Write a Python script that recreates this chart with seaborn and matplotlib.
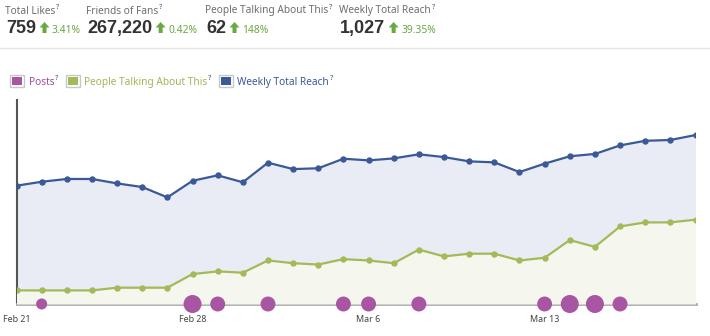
import matplotlib
matplotlib.use("Agg")
import matplotlib.pyplot as plt
from matplotlib.patches import Rectangle, Polygon
from matplotlib.lines import Line2D
import pandas as pd
import seaborn as sns

# ---- data -------------------------------------------------------------
days = pd.date_range("2012-02-21", "2012-03-19", freq="D")
weekly_reach = [719, 743, 760, 760, 733, 711, 648, 749, 782, 740, 859, 820, 825, 883,
                873, 885, 910, 893, 867, 861, 802, 853, 898, 912, 964, 992, 997, 1027]
talking_about = [10, 10, 10, 10, 12, 12, 12, 22, 24, 23, 32, 30, 29, 33,
                 32, 30, 40, 35, 37, 37, 32, 34, 47, 42, 57, 60, 60, 62]
post_days = ["2012-02-22", "2012-02-28", "2012-02-29", "2012-03-02", "2012-03-05",
             "2012-03-06", "2012-03-08", "2012-03-13", "2012-03-14", "2012-03-15",
             "2012-03-16"]
post_counts = [1, 3, 2, 2, 2, 2, 2, 2, 3, 3, 2]
tick_days = ["2012-02-21", "2012-02-28", "2012-03-06", "2012-03-13"]

kpi_labels = ["Total Likes", "Friends of Fans", "People Talking About This", "Weekly Total Reach"]
kpi_values = ["759", "267,220", "62", "1,027"]
kpi_changes = ["3.41%", "0.42%", "148%", "39.35%"]
legend_labels = ["Posts", "People Talking About This", "Weekly Total Reach"]

# ---- style ------------------------------------------------------------
BLUE = "#3b5998"
BLUE_FILL = "#e9ecf5"
GREEN = "#a2ba58"
GREEN_FILL = "#f5f6ee"
PURPLE = "#a855a3"
UP_GREEN = "#6aa842"
W, H = 710, 336

sns.set_theme(style="white")
plt.rcParams["font.family"] = ["Noto Sans", "DejaVu Sans"]

df = pd.DataFrame({"day": days, "reach": weekly_reach, "talking": talking_about})
posts = pd.DataFrame({"day": pd.to_datetime(post_days), "posts": post_counts})
posts["base"] = 0

fig = plt.figure(figsize=(W / 100, H / 100), dpi=100)
ax = fig.add_axes([16.5 / W, 1 - 304 / H, 679 / W, 204 / H])
ax2 = ax.twinx()

# weekly total reach (back layer)
ax.fill_between(df["day"], df["reach"], 0, color=BLUE_FILL, lw=0, zorder=1)
sns.lineplot(data=df, x="day", y="reach", ax=ax, color=BLUE, lw=1.6,
             marker="o", markersize=4.6, markeredgewidth=0, zorder=3)
ax.set_ylim(0, 1240)

# people talking about this (front layer)
ax2.fill_between(df["day"], df["talking"], 0, color=GREEN_FILL, lw=0, zorder=1)
sns.lineplot(data=df, x="day", y="talking", ax=ax2, color=GREEN, lw=1.6,
             marker="o", markersize=4.6, markeredgewidth=0, zorder=3)
ax2.set_ylim(0, 150)

# posts as bubbles sitting on the time axis
sns.scatterplot(data=posts, x="day", y="base", size="posts", sizes=(63, 168),
                size_norm=(1, 3), ax=ax2, color=PURPLE, edgecolor="none",
                legend=False, clip_on=False, zorder=5)

for a in (ax, ax2):
    a.set_xlim(days[0], days[-1])
    a.set_xlabel("")
    a.set_ylabel("")
    a.set_yticks([])
    for s in a.spines.values():
        s.set_visible(False)

ax.spines["left"].set_visible(True)
ax.spines["left"].set_color("#555555")
ax.spines["left"].set_linewidth(1.5)
ax.spines["bottom"].set_visible(True)
ax.spines["bottom"].set_color("#aaaaaa")
ax.spines["bottom"].set_linewidth(2)

ticks = pd.to_datetime(tick_days)
ax.set_xticks(ticks)
ax.set_xticklabels([d.strftime("%b ") + str(d.day) for d in ticks])
ax.tick_params(axis="x", length=0, pad=8, labelsize=6.4, labelcolor="#444444")
ax2.tick_params(axis="x", length=0)

# ---- header and legend ------------------------------------------------
fig.canvas.draw()
renderer = fig.canvas.get_renderer()


def put(x, y, s, **kw):
    t = fig.text(x / W, 1 - y / H, s, ha="left", va="baseline", **kw)
    return t.get_window_extent(renderer).x1


def qmark(x, y, color=BLUE):
    return put(x + 1, y - 4.5, "?", fontsize=5.5, fontweight="bold", color=color)


def up_arrow(x, top, bottom):
    w, sw = 10, 4
    mid = top + 5.5
    pts = [(x + w / 2, top), (x + w, mid), (x + w / 2 + sw / 2, mid),
           (x + w / 2 + sw / 2, bottom), (x + w / 2 - sw / 2, bottom),
           (x + w / 2 - sw / 2, mid), (x, mid)]
    fig.add_artist(Polygon([(px / W, 1 - py / H) for px, py in pts],
                           closed=True, transform=fig.transFigure,
                           facecolor=UP_GREEN, edgecolor="none"))
    return x + w


kpi_x = [6, 87, 206, 340]
for x0, lab, val, chg in zip(kpi_x, kpi_labels, kpi_values, kpi_changes):
    xe = put(x0 - 1, 13.5, lab, fontsize=7.3, color="#6d6d6d")
    qmark(xe, 13.5)
    xe = put(x0, 32.7, val, fontsize=13, fontweight="bold", color="#333333",
             family=["Liberation Sans", "DejaVu Sans"])
    xe = up_arrow(xe + 3.5, 22, 33)
    put(xe + 2.5, 32.7, chg, fontsize=7.4, color=UP_GREEN)

fig.add_artist(Line2D([0, 1], [1 - 47.5 / H, 1 - 47.5 / H], transform=fig.transFigure,
                      color="#e6e6e6", lw=1))

leg_colors = [PURPLE, GREEN, BLUE]
leg_text = ["#a04c9b", "#a2b656", BLUE]
xl = 10
for lab, c, tc in zip(legend_labels, leg_colors, leg_text):
    fig.add_artist(Rectangle((xl / W, 1 - 87 / H), 14 / W, 12 / H, transform=fig.transFigure,
                             facecolor="white", edgecolor="#c8c8c8", lw=1))
    fig.add_artist(Rectangle(((xl + 2) / W, 1 - 85 / H), 10 / W, 8 / H,
                             transform=fig.transFigure, facecolor=c, edgecolor="none"))
    xe = put(xl + 18.5, 85, lab, fontsize=7.3, color=tc)
    xe = qmark(xe, 85, color="#4a4a6a")
    xl = xe + 7

fig.savefig("out.png", dpi=100)
